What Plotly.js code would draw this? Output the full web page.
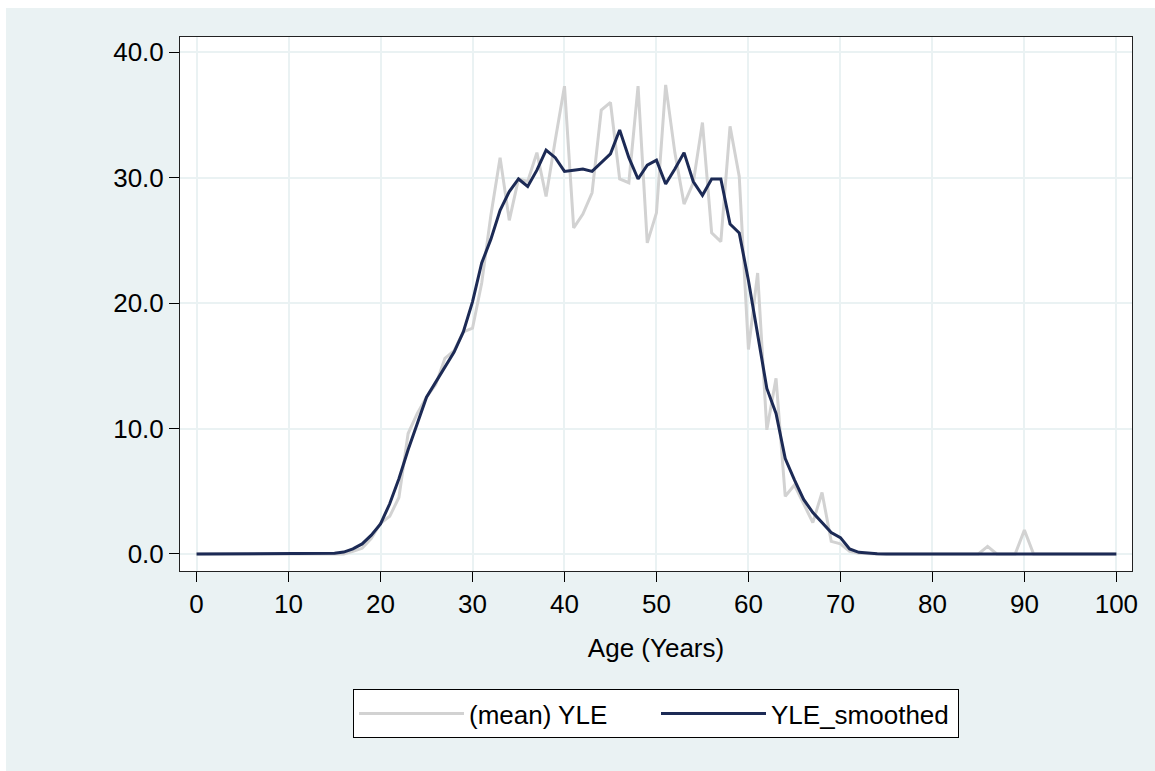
<!DOCTYPE html>
<html>
<head>
<meta charset="utf-8">
<script src="https://cdn.plot.ly/plotly-3.0.1.min.js"></script>
<style>
  html, body { margin: 0; padding: 0; background: #ffffff; width: 1155px; height: 771px; overflow: hidden; }
  #chart { position: absolute; left: 6px; top: 8px; width: 1149px; height: 763px; }
</style>
</head>
<body>
<div id="chart"></div>
<script>
// Age in years
const ages = [];
for (let a = 0; a <= 100; a++) ages.push(a);

// (mean) YLE, ages 0..100
const yleMean = [
  0, 0, 0, 0, 0, 0, 0, 0, 0, 0,            // 0-9
  0, 0, 0, 0, 0, 0, 0, 0.2, 0.45, 1.25,    // 10-19
  2.45, 3.0, 4.5, 9.6, 11.2, 12.5, 13.5, 15.6, 16.2, 17.7, // 20-29
  18.0, 21.6, 27.0, 31.6, 26.6, 29.9, 29.7, 32.0, 28.5, 33.0, // 30-39
  37.3, 26.0, 27.1, 28.8, 35.4, 36.0, 29.9, 29.6, 37.3, 24.8, // 40-49
  27.2, 37.4, 32.0, 27.9, 29.6, 34.4, 25.6, 24.9, 34.1, 30.1, // 50-59
  16.3, 22.4, 9.9, 14.0, 4.6, 5.5, 4.0, 2.5, 4.9, 1.0,        // 60-69
  0.8, 0.2, 0.05, 0, 0, 0, 0, 0, 0, 0,                          // 70-79
  0, 0, 0, 0, 0, 0, 0.6, 0, 0, 0,                               // 80-89
  1.9, 0, 0, 0, 0, 0, 0, 0, 0, 0,                               // 90-99
  0                                                             // 100
];

// YLE_smoothed, ages 0..100
const yleSmoothed = [
  0, 0, 0, 0, 0, 0, 0, 0, 0, 0,              // 0-9
  0, 0, 0, 0, 0.02, 0.05, 0.15, 0.4, 0.8, 1.5, // 10-19
  2.4, 4.0, 6.0, 8.3, 10.4, 12.5, 13.7, 14.9, 16.1, 17.7, // 20-29
  20.1, 23.2, 25.1, 27.4, 28.9, 29.9, 29.3, 30.6, 32.2, 31.6, // 30-39
  30.5, 30.6, 30.7, 30.5, 31.2, 31.9, 33.8, 31.6, 29.9, 31.0, // 40-49
  31.4, 29.5, 30.7, 32.0, 29.7, 28.6, 29.9, 29.9, 26.3, 25.6, // 50-59
  21.8, 17.6, 13.2, 11.2, 7.6, 5.9, 4.35, 3.3, 2.5, 1.7,      // 60-69
  1.3, 0.4, 0.13, 0.04, 0.01, 0, 0, 0, 0, 0,                   // 70-79
  0, 0, 0, 0, 0, 0, 0, 0, 0, 0,                                 // 80-89
  0, 0, 0, 0, 0, 0, 0, 0, 0, 0,                                 // 90-99
  0                                                             // 100
];

const seriesNames = ["(mean) YLE", "YLE_smoothed"];
const xTickVals = [0, 10, 20, 30, 40, 50, 60, 70, 80, 90, 100];
const yTickVals = [0, 10, 20, 30, 40];
const yTickText = ["0.0", "10.0", "20.0", "30.0", "40.0"];

const FONT = "'Liberation Sans', Arial, Helvetica, sans-serif";
const BG = "#EAF2F3";

const traces = [
  {
    x: ages, y: yleMean, type: "scatter", mode: "lines", name: seriesNames[0],
    line: { color: "#D2D2D2", width: 3 }
  },
  {
    x: ages, y: yleSmoothed, type: "scatter", mode: "lines", name: seriesNames[1],
    line: { color: "#1C2A55", width: 3 }
  }
];

const layout = {
  width: 1149, height: 763,
  paper_bgcolor: BG,
  plot_bgcolor: "#ffffff",
  font: { family: FONT, size: 26, color: "#000000" },
  margin: { l: 174, r: 23, t: 29, b: 200, pad: 0 },
  showlegend: true,
  xaxis: {
    range: [-1.8, 101.7],
    tickvals: xTickVals,
    ticks: "outside", ticklen: 10, tickwidth: 1, tickcolor: "#000000",
    showgrid: true, gridcolor: BG, gridwidth: 2,
    zeroline: false,
    showline: true, mirror: true, linecolor: "#222222", linewidth: 1,
    tickfont: { family: FONT, size: 26, color: "#000000" },
    title: { text: "Age (Years)", font: { family: FONT, size: 26, color: "#000000" }, standoff: 20 }
  },
  yaxis: {
    range: [-1.36, 41.22],
    tickvals: yTickVals, ticktext: yTickText,
    ticks: "outside", ticklen: 10, tickwidth: 1, tickcolor: "#000000",
    showgrid: true, gridcolor: BG, gridwidth: 2,
    zeroline: false,
    showline: true, mirror: true, linecolor: "#222222", linewidth: 1,
    tickfont: { family: FONT, size: 26, color: "#000000" }
  },
  legend: {
    orientation: "h",
    x: 0.5, xanchor: "center",
    y: -0.221, yanchor: "top",
    bgcolor: "#ffffff",
    bordercolor: "#000000", borderwidth: 1,
    font: { family: FONT, size: 26, color: "#000000" },
    itemwidth: 105,
    entrywidth: 182,
    entrywidthmode: "pixels"
  }
};

Plotly.newPlot("chart", traces, layout, { displayModeBar: false, staticPlot: true });
</script>
</body>
</html>
